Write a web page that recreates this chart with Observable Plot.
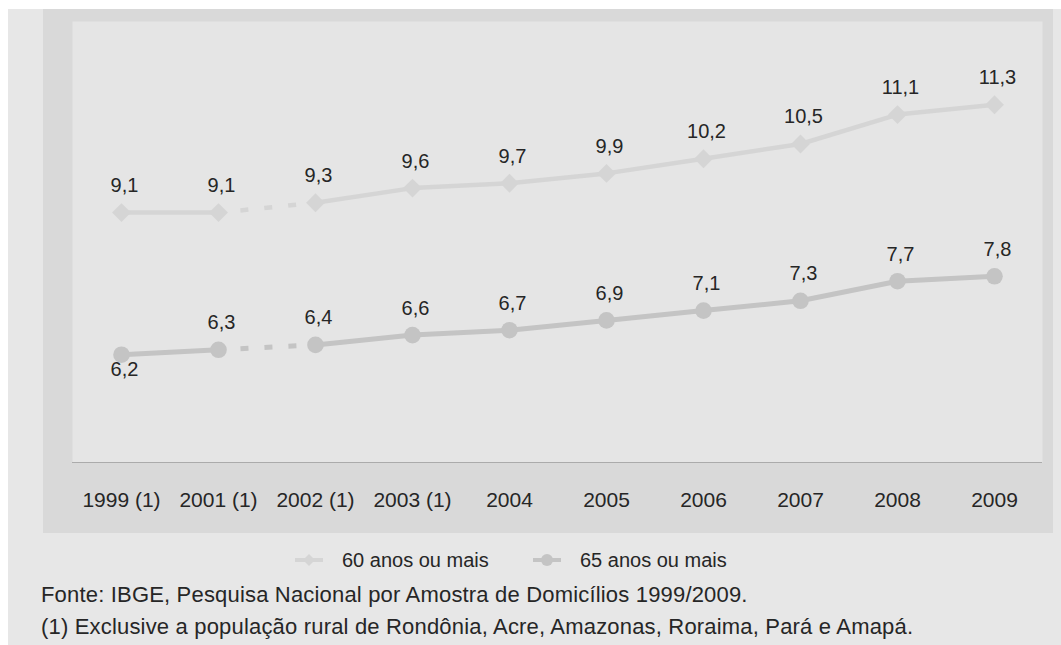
<!DOCTYPE html>
<html><head><meta charset="utf-8">
<script src="https://cdn.jsdelivr.net/npm/d3@7"></script>
<script src="https://cdn.jsdelivr.net/npm/@observablehq/plot@0.6"></script>
<style>
body{margin:0;background:#fff;width:1061px;height:645px;overflow:hidden;position:relative;font-family:"Liberation Sans",Arial,sans-serif;color:#262626;}
#bg{position:absolute;left:8px;top:9px;width:1053px;height:636px;background:#e7e7e7;}
#chart{position:absolute;left:43px;top:9px;line-height:0;}
.leg{position:absolute;top:547px;height:26px;display:flex;align-items:center;font-size:20px;white-space:nowrap;}
.leg svg{margin-right:19px;}
.cap{position:absolute;left:41px;font-size:22px;letter-spacing:0.18px;white-space:nowrap;line-height:22px;}
</style></head><body>
<div id="bg"></div>
<div id="chart"></div>
<div class="leg" id="leg0" style="left:295px"></div>
<div class="leg" id="leg1" style="left:533px"></div>
<div class="cap" id="cap1" style="top:584px"></div>
<div class="cap" id="cap2" style="top:616px"></div>
<script>
const years = ["1999 (1)","2001 (1)","2002 (1)","2003 (1)","2004","2005","2006","2007","2008","2009"];
const values60 = [9.1, 9.1, 9.3, 9.6, 9.7, 9.9, 10.2, 10.5, 11.1, 11.3];
const values65 = [6.2, 6.3, 6.4, 6.6, 6.7, 6.9, 7.1, 7.3, 7.7, 7.8];
const seriesNames = ["60 anos ou mais", "65 anos ou mais"];
const seriesColors = ["#d5d5d5", "#c4c4c4"];
// segment ids: the step between 2001 and 2002 is drawn dashed (break in series)
const segment = ["a","a","b","b","b","b","b","b","b","b"];
const captions = [
  "Fonte: IBGE, Pesquisa Nacional por Amostra de Domicílios 1999/2009.",
  "(1) Exclusive a população rural de Rondônia, Acre, Amazonas, Roraima, Pará e Amapá."
];

const rows = years.map((y, i) => ({year: y, v60: values60[i], v65: values65[i], seg: segment[i], i}));
const gapRows = rows.filter((d, i) => i > 0 && segment[i] !== segment[i - 1] || (i < rows.length - 1 && segment[i] !== segment[i + 1]));
const fmt = v => String(v).replace(".", ",");
const font = '"Liberation Sans", Arial, sans-serif';
const textColor = "#262626";

const chart = Plot.plot({
  width: 1010,
  height: 524,
  marginLeft: 29,
  marginRight: 11,
  marginTop: 12,
  marginBottom: 71,
  style: {background: "#d9d9d9", fontFamily: font, fontSize: "20px", color: textColor},
  x: {type: "point", domain: years, padding: 0.5},
  y: {domain: [4, 13], axis: null},
  marks: [
    Plot.frame({fill: "#e5e5e5", stroke: null}),
    Plot.ruleY([4], {stroke: "#ababab", strokeWidth: 1.2}),
    Plot.axisX({tickSize: 0, tickPadding: 30, fontSize: 21, fill: textColor, label: null}),
    // solid segments
    Plot.line(rows, {x: "year", y: "v60", z: "seg", stroke: seriesColors[0], strokeWidth: 4.5}),
    Plot.line(rows, {x: "year", y: "v65", z: "seg", stroke: seriesColors[1], strokeWidth: 5}),
    // dashed break segment
    Plot.line(gapRows, {x: "year", y: "v60", stroke: seriesColors[0], strokeWidth: 4.5, strokeDasharray: "0 22 8 16 8 16 8 200", strokeLinecap: "butt"}),
    Plot.line(gapRows, {x: "year", y: "v65", stroke: seriesColors[1], strokeWidth: 5, strokeDasharray: "0 22 8 16 8 16 8 200", strokeLinecap: "butt"}),
    Plot.dot(rows, {x: "year", y: "v60", symbol: "diamond2", r: 8.5, fill: seriesColors[0], stroke: null}),
    Plot.dot(rows, {x: "year", y: "v65", symbol: "circle", r: 8.3, fill: seriesColors[1], stroke: null}),
    Plot.text(rows, {x: "year", y: "v60", text: d => fmt(d.v60), dy: -27, dx: 3, fontSize: 20, fill: textColor}),
    Plot.text(rows.filter(d => d.i > 0), {x: "year", y: "v65", text: d => fmt(d.v65), dy: -27, dx: 3, fontSize: 20, fill: textColor}),
    Plot.text(rows.filter(d => d.i === 0), {x: "year", y: "v65", text: d => fmt(d.v65), dy: 15, dx: 3, fontSize: 20, fill: textColor})
  ]
});
document.getElementById("chart").append(chart);

// legend
const symbols = ["diamond", "circle"];
seriesNames.forEach((name, k) => {
  const el = d3.select("#leg" + k);
  const svg = el.append("svg").attr("width", 28).attr("height", 20);
  svg.append("line").attr("x1", 0).attr("x2", 28).attr("y1", 10).attr("y2", 10)
    .attr("stroke", seriesColors[k]).attr("stroke-width", 4);
  if (symbols[k] === "diamond") {
    svg.append("path").attr("d", "M14,4L20,10L14,16L8,10Z").attr("fill", seriesColors[k]);
  } else {
    svg.append("circle").attr("cx", 14).attr("cy", 10).attr("r", 6).attr("fill", seriesColors[k]);
  }
  el.append("span").text(name);
});
document.getElementById("cap1").textContent = captions[0];
document.getElementById("cap2").textContent = captions[1];
</script>
</body></html>
